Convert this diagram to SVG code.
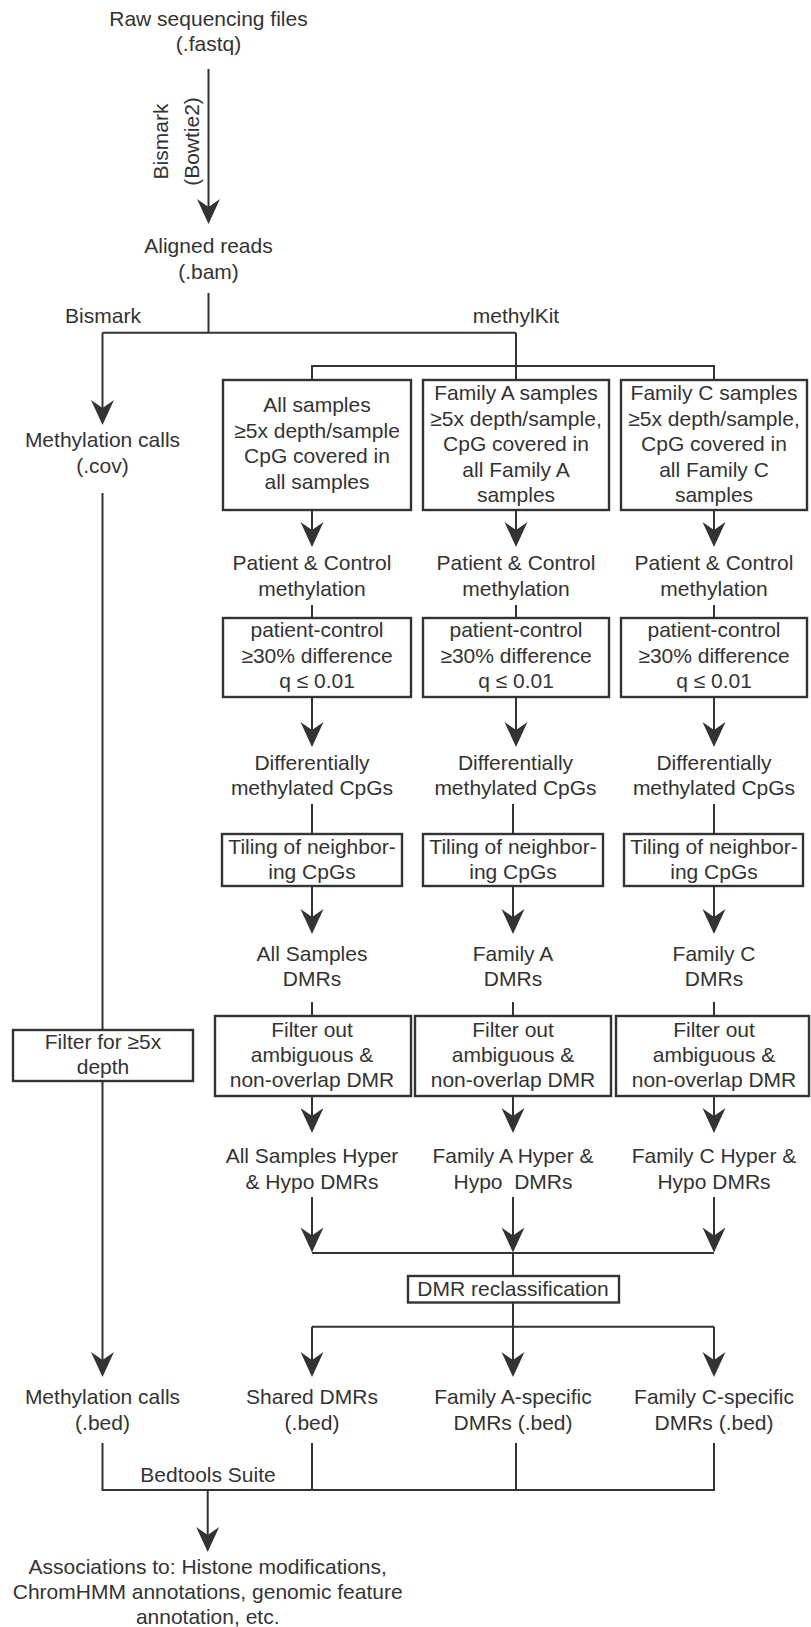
<svg xmlns="http://www.w3.org/2000/svg" width="811" height="1627" viewBox="0 0 811 1627">
<style>
text{font-family:"Liberation Sans",Arial,sans-serif;font-size:21px;fill:#333;text-anchor:middle}
.box{fill:#fff;stroke:#333;stroke-width:2.4}
.ln{fill:none;stroke:#333;stroke-width:2}
.ar{fill:none;stroke:#333;stroke-width:2;marker-end:url(#ah)}
</style>
<defs>
<marker id="ah" markerUnits="userSpaceOnUse" markerWidth="26" markerHeight="24" viewBox="0 -12 26 24" refX="15" refY="0" orient="auto" overflow="visible">
<path d="M0,-11.5 L25,0 L0,11.5 L8,0 Z" fill="#333"/>
</marker>
</defs>
<rect width="811" height="1627" fill="#fff"/>

<g id="connectors">
<line class="ar" x1="208.5" y1="69" x2="208.5" y2="214"/>
<polyline class="ln" points="208.5,293 208.5,332.7"/>
<polyline class="ln" points="102.5,332.7 516,332.7"/>
<line class="ar" x1="102.5" y1="332.7" x2="102.5" y2="415"/>
<polyline class="ln" points="516,332.7 516,380"/>
<polyline class="ln" points="312,380 312,366 714,366 714,380"/>
<line class="ar" x1="312" y1="510" x2="312" y2="537"/>
<line class="ar" x1="516" y1="510" x2="516" y2="537"/>
<line class="ar" x1="714" y1="510" x2="714" y2="537"/>
<line class="ln" x1="312" y1="605" x2="312" y2="618"/>
<line class="ln" x1="516" y1="605" x2="516" y2="618"/>
<line class="ln" x1="714" y1="605" x2="714" y2="618"/>
<line class="ar" x1="312" y1="697" x2="312" y2="737"/>
<line class="ar" x1="516" y1="697" x2="516" y2="737"/>
<line class="ar" x1="714" y1="697" x2="714" y2="737"/>
<line class="ln" x1="312" y1="804" x2="312" y2="834"/>
<line class="ln" x1="513" y1="804" x2="513" y2="834"/>
<line class="ln" x1="714" y1="804" x2="714" y2="834"/>
<line class="ar" x1="312" y1="886" x2="312" y2="924"/>
<line class="ar" x1="513" y1="886" x2="513" y2="924"/>
<line class="ar" x1="714" y1="886" x2="714" y2="924"/>
<line class="ln" x1="312" y1="1002" x2="312" y2="1016"/>
<line class="ln" x1="513" y1="1002" x2="513" y2="1016"/>
<line class="ln" x1="714" y1="1002" x2="714" y2="1016"/>
<line class="ar" x1="312" y1="1096" x2="312" y2="1123"/>
<line class="ar" x1="513" y1="1096" x2="513" y2="1123"/>
<line class="ar" x1="714" y1="1096" x2="714" y2="1123"/>
<line class="ln" x1="102.5" y1="493" x2="102.5" y2="1030"/>
<line class="ar" x1="102.5" y1="1081" x2="102.5" y2="1367"/>
<line class="ar" x1="312" y1="1197" x2="312" y2="1242.5"/>
<line class="ar" x1="513" y1="1197" x2="513" y2="1242.5"/>
<line class="ar" x1="714" y1="1197" x2="714" y2="1242.5"/>
<line class="ln" x1="312" y1="1253" x2="714" y2="1253"/>
<line class="ln" x1="513" y1="1253" x2="513" y2="1276"/>
<line class="ln" x1="513" y1="1302.5" x2="513" y2="1326.7"/>
<line class="ln" x1="312" y1="1326.7" x2="714" y2="1326.7"/>
<line class="ar" x1="312" y1="1326.7" x2="312" y2="1367"/>
<line class="ar" x1="513" y1="1326.7" x2="513" y2="1367"/>
<line class="ar" x1="714" y1="1326.7" x2="714" y2="1367"/>
<polyline class="ln" points="102.5,1443 102.5,1490 714,1490 714,1443"/>
<line class="ln" x1="312" y1="1443" x2="312" y2="1490"/>
<line class="ln" x1="516" y1="1443" x2="516" y2="1490"/>
<line class="ar" x1="207.7" y1="1490" x2="207.7" y2="1542"/>
</g>

<g id="labels">
<text transform="translate(167.5,141.5) rotate(-90)">Bismark</text>
<text transform="translate(199,141.5) rotate(-90)">(Bowtie2)</text>
<text x="103" y="323">Bismark</text>
<text x="516" y="323">methylKit</text>
<text x="208" y="1482">Bedtools Suite</text>
</g>

<g id="n-raw"><text x="208.5" y="25.5">Raw sequencing files</text><text x="208.5" y="51">(.fastq)</text></g>
<g id="n-aligned"><text x="208.5" y="253">Aligned reads</text><text x="208.5" y="279">(.bam)</text></g>
<g id="n-cov"><text x="102.5" y="447">Methylation calls</text><text x="102.5" y="473">(.cov)</text></g>

<g id="n-all-filter"><rect class="box" x="223" y="380" width="188" height="130"/>
<text x="317" y="412">All samples</text><text x="317" y="437.5">≥5x depth/sample</text><text x="317" y="463">CpG covered in</text><text x="317" y="489">all samples</text></g>
<g id="n-a-filter"><rect class="box" x="423" y="380" width="186" height="130"/>
<text x="516" y="400">Family A samples</text><text x="516" y="425.5">≥5x depth/sample,</text><text x="516" y="451">CpG covered in</text><text x="516" y="476.5">all Family A</text><text x="516" y="502">samples</text></g>
<g id="n-c-filter"><rect class="box" x="621" y="380" width="186" height="130"/>
<text x="714" y="400">Family C samples</text><text x="714" y="425.5">≥5x depth/sample,</text><text x="714" y="451">CpG covered in</text><text x="714" y="476.5">all Family C</text><text x="714" y="502">samples</text></g>

<g id="n-all-pc"><text x="312" y="570">Patient &amp; Control</text><text x="312" y="596">methylation</text></g>
<g id="n-a-pc"><text x="516" y="570">Patient &amp; Control</text><text x="516" y="596">methylation</text></g>
<g id="n-c-pc"><text x="714" y="570">Patient &amp; Control</text><text x="714" y="596">methylation</text></g>

<g id="n-all-test"><rect class="box" x="223" y="618" width="188" height="79"/>
<text x="317" y="637">patient-control</text><text x="317" y="662.5">≥30% difference</text><text x="317" y="688">q ≤ 0.01</text></g>
<g id="n-a-test"><rect class="box" x="423" y="618" width="186" height="79"/>
<text x="516" y="637">patient-control</text><text x="516" y="662.5">≥30% difference</text><text x="516" y="688">q ≤ 0.01</text></g>
<g id="n-c-test"><rect class="box" x="621" y="618" width="186" height="79"/>
<text x="714" y="637">patient-control</text><text x="714" y="662.5">≥30% difference</text><text x="714" y="688">q ≤ 0.01</text></g>

<g id="n-all-dm"><text x="312" y="770">Differentially</text><text x="312" y="795">methylated CpGs</text></g>
<g id="n-a-dm"><text x="515.5" y="770">Differentially</text><text x="515.5" y="795">methylated CpGs</text></g>
<g id="n-c-dm"><text x="714" y="770">Differentially</text><text x="714" y="795">methylated CpGs</text></g>

<g id="n-all-tile"><rect class="box" x="222" y="834" width="180" height="52"/>
<text x="312" y="854">Tiling of neighbor-</text><text x="312" y="879">ing CpGs</text></g>
<g id="n-a-tile"><rect class="box" x="423" y="834" width="180" height="52"/>
<text x="513" y="854">Tiling of neighbor-</text><text x="513" y="879">ing CpGs</text></g>
<g id="n-c-tile"><rect class="box" x="624" y="834" width="179" height="52"/>
<text x="714" y="854">Tiling of neighbor-</text><text x="714" y="879">ing CpGs</text></g>

<g id="n-all-dmr"><text x="312" y="961">All Samples</text><text x="312" y="986">DMRs</text></g>
<g id="n-a-dmr"><text x="513" y="961">Family A</text><text x="513" y="986">DMRs</text></g>
<g id="n-c-dmr"><text x="714" y="961">Family C</text><text x="714" y="986">DMRs</text></g>

<g id="n-depth"><rect class="box" x="13" y="1030" width="180" height="51"/>
<text x="103" y="1049">Filter for ≥5x</text><text x="103" y="1074">depth</text></g>

<g id="n-all-amb"><rect class="box" x="215" y="1016" width="196" height="80"/>
<text x="312" y="1037">Filter out</text><text x="312" y="1062">ambiguous &amp;</text><text x="312" y="1087">non-overlap DMR</text></g>
<g id="n-a-amb"><rect class="box" x="415" y="1016" width="196" height="80"/>
<text x="513" y="1037">Filter out</text><text x="513" y="1062">ambiguous &amp;</text><text x="513" y="1087">non-overlap DMR</text></g>
<g id="n-c-amb"><rect class="box" x="616" y="1016" width="193" height="80"/>
<text x="714" y="1037">Filter out</text><text x="714" y="1062">ambiguous &amp;</text><text x="714" y="1087">non-overlap DMR</text></g>

<g id="n-all-hh"><text x="312" y="1163">All Samples Hyper</text><text x="312" y="1189">&amp; Hypo DMRs</text></g>
<g id="n-a-hh"><text x="513" y="1163">Family A Hyper &amp;</text><text x="513" y="1189" style="white-space:pre">Hypo  DMRs</text></g>
<g id="n-c-hh"><text x="714" y="1163">Family C Hyper &amp;</text><text x="714" y="1189">Hypo DMRs</text></g>

<g id="n-reclass"><rect class="box" x="408" y="1276" width="211" height="26.5"/>
<text x="513" y="1296">DMR reclassification</text></g>

<g id="n-bed"><text x="102.5" y="1404">Methylation calls</text><text x="102.5" y="1430">(.bed)</text></g>
<g id="n-shared"><text x="312" y="1404">Shared DMRs</text><text x="312" y="1430">(.bed)</text></g>
<g id="n-a-spec"><text x="513" y="1404">Family A-specific</text><text x="513" y="1430">DMRs (.bed)</text></g>
<g id="n-c-spec"><text x="714" y="1404">Family C-specific</text><text x="714" y="1430">DMRs (.bed)</text></g>

<g id="n-assoc"><text x="207.7" y="1574">Associations to: Histone modifications,</text><text x="207.7" y="1599">ChromHMM annotations, genomic feature</text><text x="207.7" y="1624">annotation, etc.</text></g>
</svg>
